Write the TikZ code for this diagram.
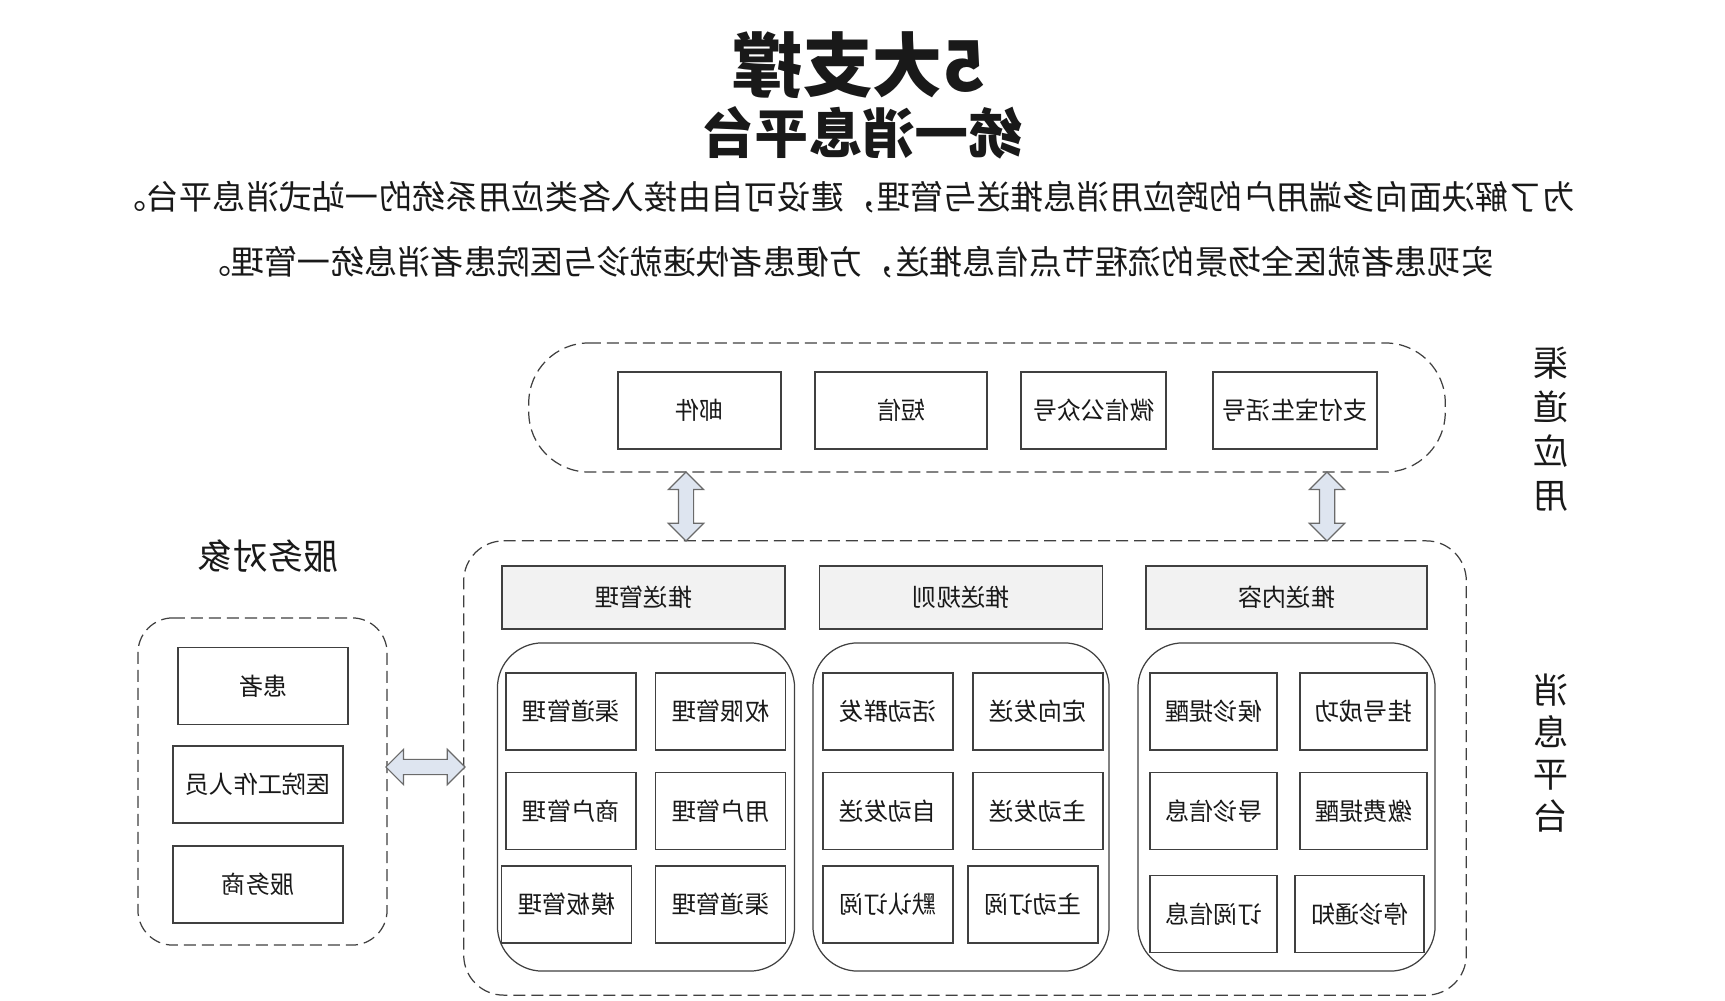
\documentclass[tikz,border=0pt]{standalone}
\usepackage{fontspec}
\setmainfont{Noto Sans CJK SC}
\usepackage{tikz}
\usetikzlibrary{shapes.arrows,calc}

\definecolor{linegray}{HTML}{404040}
\definecolor{headfill}{HTML}{F2F2F2}
\definecolor{arrfill}{HTML}{DEE5F0}
\definecolor{arrline}{HTML}{6A6A6A}

\tikzset{
  every node/.style={xscale=-1, text=black!90},
  dashgroup/.style={draw=linegray, line width=0.35pt, dash pattern=on 1.2mm off 0.6mm},
  groupbox/.style={draw=linegray, line width=0.35pt, rounded corners=4.5mm, minimum width=29.7mm, minimum height=32.8mm},
  itembox/.style={draw=linegray, line width=0.4pt, minimum height=7.7mm, inner sep=0pt, font=\fontsize{6.9}{8}\selectfont},
  headbox/.style={itembox, fill=headfill, minimum width=28.3mm, minimum height=6.3mm},
  darr/.style={double arrow, draw=arrline, fill=arrfill, line width=0.35pt, inner sep=0.7mm, double arrow head extend=1mm}
}

\begin{document}
\begin{tikzpicture}[x=0.01cm, y=-0.01cm]
\fill[white] (0,0) rectangle (1725,1001);
\useasboundingbox (0,0) rectangle (1725,1001);

\node[font=\bfseries\fontsize{19.9}{22}\selectfont] (title) at (859,65) {5大支撑};
\node[font=\bfseries\fontsize{15.2}{17}\selectfont] (subtitle) at (862,133) {统一消息平台};
\node[font=\fontsize{9.45}{11}\selectfont] (intro1) at (844,197) {为了解决面向多端用户的跨应用消息推送与管理，建设可自由接入各类应用系统的一站式消息平台。};
\node[font=\fontsize{9.45}{11}\selectfont] (intro2) at (846,262) {实现患者就医全场景的流程节点信息推送，方便患者快速就诊与医院患者消息统一管理。};

\node[font=\fontsize{10}{12.5}\selectfont, align=center] (chanlbl) at (1551,429) {渠\\道\\应\\用};
\node[font=\fontsize{10}{12}\selectfont, align=center] (platlbl) at (1551,753) {消\\息\\平\\台};

\node[dashgroup, rounded corners=6mm, minimum width=91.6mm, minimum height=12.9mm] (chan) at (987,407.5) {};
\node[itembox, minimum width=16.3mm] (mail) at (699.5,410.5) {邮件};
\node[itembox, minimum width=17.2mm] (sms) at (901,410.5) {短信};
\node[itembox, minimum width=14.5mm] (wechat) at (1093.5,410.5) {微信公众号};
\node[itembox, minimum width=16.4mm] (alipay) at (1295,410.5) {支付宝生活号};

\node[dashgroup, rounded corners=4mm, minimum width=100.2mm, minimum height=45.4mm] (plat) at (965,768) {};

\node[font=\fontsize{10}{12}\selectfont] (svclbl) at (268,556) {服务对象};
\node[dashgroup, rounded corners=3.5mm, minimum width=24.9mm, minimum height=32.7mm] (svc) at (262.5,781.5) {};
\node[itembox, minimum width=17mm] (patient) at (263,686) {患者};
\node[itembox, minimum width=17mm] (staff) at (258,784.5) {医院工作人员};
\node[itembox, minimum width=17mm] (vendor) at (258,884.5) {服务商};

\node[headbox] (hmgr) at (643.5,597.5) {推送管理};
\node[headbox] (hrule) at (961,597.5) {推送规则};
\node[headbox, minimum width=28.1mm] (hcont) at (1286.5,597.5) {推送内容};

\node[groupbox] (gmgr) at (646,807) {};
\node[groupbox, minimum width=29.6mm] (grule) at (961,807) {};
\node[groupbox] (gcont) at (1286.5,807) {};

\node[itembox, minimum width=13mm] (m1) at (571,711.5) {渠道管理};
\node[itembox, minimum width=13mm] (m2) at (720.5,711.5) {权限管理};
\node[itembox, minimum width=13mm] (m3) at (571,811) {商户管理};
\node[itembox, minimum width=13mm] (m4) at (720.5,811) {用户管理};
\node[itembox, minimum width=13mm] (m5) at (566.5,904.5) {模板管理};
\node[itembox, minimum width=13mm] (m6) at (720.5,904.5) {渠道管理};

\node[itembox, minimum width=13mm] (r1) at (888,711.5) {活动群发};
\node[itembox, minimum width=13mm] (r2) at (1038,711.5) {定向发送};
\node[itembox, minimum width=13mm] (r3) at (888,811) {自动发送};
\node[itembox, minimum width=13mm] (r4) at (1038,811) {主动发送};
\node[itembox, minimum width=13mm] (r5) at (888,904.5) {默认订阅};
\node[itembox, minimum width=13mm] (r6) at (1033,904.5) {主动订阅};

\node[itembox, minimum width=12.7mm] (c1) at (1213.5,711.5) {候诊提醒};
\node[itembox, minimum width=12.7mm] (c2) at (1363.5,711.5) {挂号成功};
\node[itembox, minimum width=12.7mm] (c3) at (1213.5,811) {导诊信息};
\node[itembox, minimum width=12.7mm] (c4) at (1363.5,811) {缴费提醒};
\node[itembox, minimum width=12.7mm] (c5) at (1213.5,914) {订阅信息};
\node[itembox, minimum width=12.9mm] (c6) at (1359.5,914) {停诊通知};

\coordinate (ax1) at (686,0);
\coordinate (ax2) at (1327,0);
\coordinate (ay) at (0,767);
\node[darr, rotate=90, minimum height=6.9mm] (arr1) at ($(chan.south -| ax1)!0.5!(plat.north -| ax1)$) {};
\node[darr, rotate=90, minimum height=6.9mm] (arr2) at ($(chan.south -| ax2)!0.5!(plat.north -| ax2)$) {};
\node[darr, minimum height=7.9mm] (arr3) at ($(svc.west |- ay)!0.5!(plat.east |- ay)$) {};
\end{tikzpicture}
\end{document}
